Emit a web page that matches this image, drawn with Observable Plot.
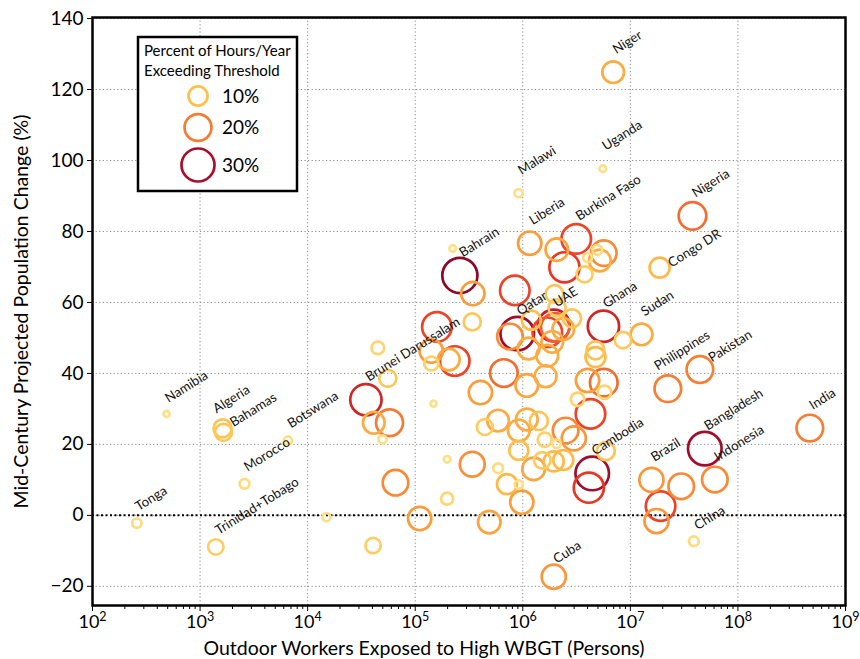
<!DOCTYPE html>
<html><head><meta charset="utf-8">
<script src="https://cdn.jsdelivr.net/npm/d3@7"></script>
<script src="https://cdn.jsdelivr.net/npm/@observablehq/plot@0.6"></script>
<style>
body{margin:0;background:#fff;}
#wrap{position:relative;width:860px;height:659px;font-family:Lato,sans-serif;}
#legend{position:absolute;left:0;top:0;pointer-events:none;}
</style></head><body><div id="wrap"></div>
<script>
// ---- data ----
const names = ["Tonga","Namibia","Algeria","Bahamas","Morocco","Trinidad+Tobago","Botswana","","","Brunei Darussalam",
"","","","","","","","","","",
"","","","","","Bahrain","","","","",
"","","","","","","","","","",
"","","","","","","","","","",
"Cuba","Cambodia","","","","","","","","",
"","","","Qatar","","","","","","UAE",
"","","","","","","Ghana","","Sudan","",
"","Liberia","Malawi","Burkina Faso","","","","","","",
"","Uganda","Niger","Nigeria","Congo DR","Philippines","Pakistan","India","Bangladesh","Indonesia",
"Brazil","","","","China"];
const workers = [258,488,1620,1650,2590,1400,6550,14960,40600,34800,
41200,57700,49700,65600,110000,44900,55600,159000,141000,233000,
205000,141000,148000,343000,339000,260000,223000,404000,444000,198000,
339000,198000,488000,589000,589000,713000,918000,979000,918000,1.09e6,
1.41e6,1.60e6,2.06e6,2.50e6,2.98e6,918000,1.26e6,1.52e6,1.94e6,2.38e6,
1.94e6,4.42e6,4.11e6,5.91e6,4.26e6,3.23e6,5.75e6,5.66e6,4.00e6,667000,
1.09e6,1.63e6,843000,888000,760000,1.13e6,1.69e6,1.2e6,1.97e6,1.94e6,
1.69e6,2.0e6,1.88e6,2.38e6,2.87e6,2.08e6,5.62e6,8.54e6,1.27e7,4.74e6,
4.74e6,1.16e6,912000,3.14e6,2.07e6,2.44e6,3.75e6,5.66e6,5.20e6,4.00e6,
4.92e6,5.54e6,6.92e6,3.78e7,1.87e7,2.23e7,4.43e7,4.66e8,4.92e7,6.10e7,
1.57e7,2.97e7,1.91e7,1.75e7,3.89e7];
const popChange = [-2.2,28.6,24.5,23.4,8.9,-8.9,21.1,-0.5,-8.5,32.6,
26.1,26.1,21.4,9.2,-0.9,47.2,38.6,53.1,46.3,43.5,
43.9,42.8,31.5,62.5,54.5,67.6,75.2,34.6,24.9,15.8,
14.4,4.7,-1.9,26.7,13.3,8.8,8.7,3.7,23.9,27.0,
26.6,21.3,20.2,23.9,21.7,18.3,13.1,15.5,15.2,15.6,
-17.3,11.8,7.8,18.1,28.6,32.7,34.7,37.4,38.0,40.1,
36.6,39.2,63.4,51.2,50.4,47.0,45.0,55.0,62.4,53.5,
51.6,53.0,48.9,52.5,55.5,58.5,53.3,49.4,51.0,46.5,
44.6,76.7,90.8,77.9,74.9,69.9,67.9,73.9,71.8,72.6,
74.8,97.7,124.9,84.4,69.8,35.7,41.1,24.6,18.8,10.1,
10.0,8.2,2.6,-1.6,-7.3];
const hoursPct = [2.4,1.0,9,8,2.6,6.5,1.8,1.8,6.5,27,
13,20,1.8,18,15,4.4,8,24,15,24,
13,5.4,1.0,15,8,34,1.2,15,7,1.2,
17,4,14,13,2.6,11,1.8,15,13,13,
9,5.5,2,18,16,10,14,7.5,11,11,
16,31,25,9,24,5,5,21,15,21,
14,13,24,31,18,13,13,10,8.6,28,
24,22,13,13,9,8,27,7.5,13,9,
11,15,1.8,24,14,25,7,18,13,2.2,
2.6,1.2,13,21,11,19.5,19.5,19.5,31,18,
16,18,24,16,2.6];
const yTicks = [-20,0,20,40,60,80,100,120,140];
const xTicks = [1e2,1e3,1e4,1e5,1e6,1e7,1e8,1e9];
const legendPct = [10,20,30];
const legendTitle = ["Percent of Hours/Year","Exceeding Threshold"];
const xTitle = "Outdoor Workers Exposed to High WBGT (Persons)";
const yTitle = "Mid-Century Projected Population Change (%)";

const data = names.map((name,i)=>({name, workers:workers[i], change:popChange[i], pct:hoursPct[i]}));

const minorTicks = [];
for (let e = 2; e < 9; e++) for (let k = 2; k <= 9; k++) minorTicks.push(k * Math.pow(10, e));

const labelOffsets = {
  "Congo DR":[12,0], "Philippines":[-10,-18], "Pakistan":[12,-7], "China":[4,-11], "Cuba":[3,-13],
  "Namibia":[2,-11], "Algeria":[-6,-15], "Bahamas":[10,-5], "Botswana":[3,-12], "Morocco":[3,-12],
  "Tonga":[2,-12], "Trinidad+Tobago":[3,-12]
};
const labelMarks = data.filter(d => d.name).map(d => {
  const [dx, dy] = labelOffsets[d.name] || [3,-18];
  return Plot.text([d], {x:"workers", y:"change", text:"name", rotate:-32, textAnchor:"start",
    lineAnchor:"bottom", dx, dy, fontSize:13.2, fill:"#111"});
});

const grid = {stroke:"#8a8a8a", strokeOpacity:1, strokeWidth:1, strokeDasharray:"1.2,2.4"};

const chart = Plot.plot({
  width:860, height:659,
  marginLeft:92, marginRight:15, marginTop:17, marginBottom:54,
  style:{fontFamily:"Lato, sans-serif", background:"#fff", color:"#000"},
  x:{type:"log", domain:[1e2,1e9]},
  y:{domain:[-25.4,140.3]},
  r:{type:"sqrt", domain:[0,30], range:[0,16.5]},
  color:{type:"linear", domain:[0,10,15,20,25,30,35],
    range:["#ffe48f","#fec04c","#fc9d3c","#f77b33","#ea3524","#a80f2c","#85082a"], interpolate:"rgb", clamp:true},
  marks:[
    Plot.gridY(yTicks, grid),
    Plot.gridX(xTicks, grid),
    Plot.ruleY([0], {stroke:"#000", strokeWidth:2, strokeDasharray:"2,2.5"}),
    Plot.dot(data, {x:"workers", y:"change", r:"pct", stroke:"pct", strokeWidth:2.7, fill:"none"}),
    ...labelMarks,
    Plot.frame({stroke:"#000", strokeWidth:2.5}),
    Plot.axisY(yTicks, {tickSize:5, tickPadding:4, fontSize:19, label:null, tickFormat:d=>d<0?"\u2212"+(-d):String(d)}),
    Plot.axisX(minorTicks, {tickSize:4, tickFormat:()=>"", label:null}),
    Plot.axisX(xTicks, {tickSize:6, tickPadding:4, fontSize:18, label:null, tickFormat:d=>"10^"+Math.round(Math.log10(d))}),
    Plot.text([xTitle], {text:d=>d, frameAnchor:"bottom", dx:-45, dy:49, fontSize:19.5, lineAnchor:"bottom"}),
    Plot.text([yTitle], {text:d=>d, frameAnchor:"left", textAnchor:"middle", lineAnchor:"middle", dx:-71, rotate:-90, fontSize:19.5})
  ]
});

// superscript exponents on x tick labels
d3.select(chart).selectAll('g[aria-label="x-axis tick label"] text').each(function(){
  const t = this.textContent;
  if (t.startsWith("10^")) {
    const e = t.slice(3);
    this.textContent = "10";
    d3.select(this).append("tspan").attr("dy","-0.55em").attr("font-size","12.5px").text(e);
  }
});

const wrap = document.getElementById("wrap");
wrap.appendChild(chart);

// inset legend drawn from the chart's own r and color scales
const rS = chart.scale("r"), cS = chart.scale("color");
const lg = d3.select(wrap).append("svg").attr("id","legend").attr("width",860).attr("height",659)
  .style("font-family","Lato, sans-serif");
lg.append("rect").attr("x",138).attr("y",37).attr("width",159).attr("height",154)
  .attr("fill","#fff").attr("stroke","#000").attr("stroke-width",2.5);
legendTitle.forEach((t,i)=>lg.append("text").attr("x",144).attr("y",56+i*20).attr("font-size",15).text(t));
const ly = [96,127.5,165];
legendPct.forEach((p,i)=>{
  lg.append("circle").attr("cx",198).attr("cy",ly[i]).attr("r",rS.apply(p))
    .attr("fill","none").attr("stroke",cS.apply(p)).attr("stroke-width",2.7);
  lg.append("text").attr("x",222).attr("y",ly[i]+6.5).attr("font-size",19).text(p+"%");
});
</script></body></html>
